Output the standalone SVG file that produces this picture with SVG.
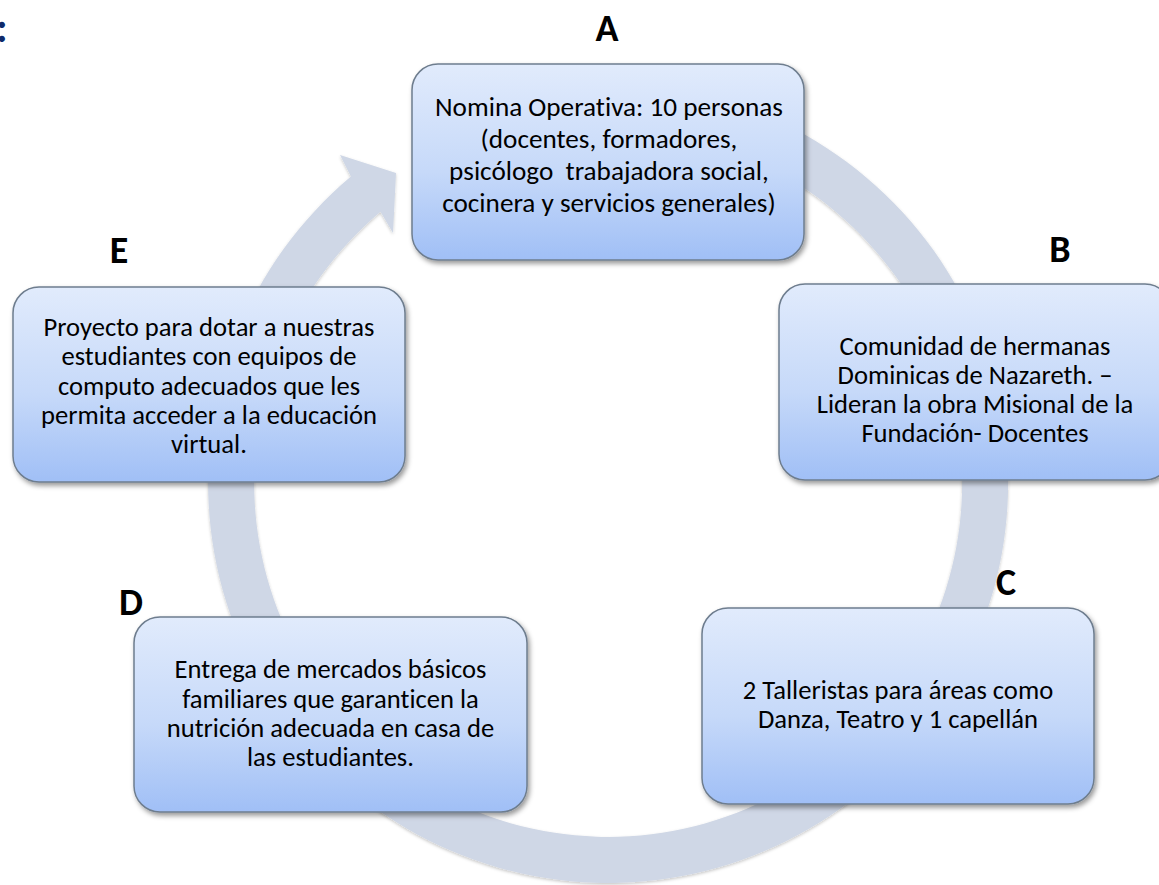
<svg xmlns="http://www.w3.org/2000/svg" width="1159" height="885" viewBox="0 0 1159 885">
<defs>
<linearGradient id="boxFill" x1="0" y1="0" x2="0" y2="1">
<stop offset="0" stop-color="#e1ebfc"/>
<stop offset="0.55" stop-color="#c6d9f9"/>
<stop offset="1" stop-color="#a0bff6"/>
</linearGradient>
<filter id="boxShadow" x="-10%" y="-10%" width="125%" height="130%">
<feDropShadow dx="2" dy="3" stdDeviation="2.5" flood-color="#000" flood-opacity="0.4"/>
</filter>
<filter id="ringShadow" x="-10%" y="-10%" width="120%" height="120%">
<feDropShadow dx="0" dy="1.5" stdDeviation="1.5" flood-color="#000" flood-opacity="0.22"/>
</filter>
<style>
.box{fill:url(#boxFill);stroke:#6e7d8e;stroke-width:1.5;filter:url(#boxShadow);}
.txt{font-family:Carlito,Lato,"Liberation Sans",sans-serif;font-size:26.6px;fill:#000;text-anchor:middle;font-variant-ligatures:none;white-space:pre;}
.big{font-size:27.2px;}
.lbl{font-family:Carlito,Lato,"Liberation Sans",sans-serif;font-weight:700;font-size:38px;fill:#000;text-anchor:middle;}
.ring{fill:#cfd7e6;filter:url(#ringShadow);}
</style>
</defs>
<rect width="1159" height="885" fill="#fff"/>
<text x="-4" y="42" font-family="Carlito,Lato,'Liberation Sans',sans-serif" font-weight="700" font-size="42" fill="#0f2a6b">:</text>

<g id="connectors">
<path class="ring" d="M471.2,107.1 A400,400 0 1 1 350.9,176.6 L340,155 L396,173 L393,233 L380.5,211.8 A354,354 0 1 0 486.9,150.3 Z"/>
</g>

<g id="node-A">
<rect class="box" x="412" y="64" width="392" height="196" rx="26"/>
<text class="txt big" x="609" y="116">Nomina Operativa: 10 personas</text>
<text class="txt big" x="609" y="148">(docentes, formadores,</text>
<text class="txt big" x="609" y="180" xml:space="preserve">psicólogo  trabajadora social,</text>
<text class="txt big" x="609" y="212">cocinera y servicios generales)</text>
</g>
<g id="label-A"><text class="lbl" x="607" y="41">A</text></g>

<g id="node-B">
<rect class="box" x="779" y="284" width="392" height="196" rx="26"/>
<text class="txt" x="975" y="355">Comunidad de hermanas</text>
<text class="txt" x="975" y="384">Dominicas de Nazareth. –</text>
<text class="txt" x="975" y="413">Lideran la obra Misional de la</text>
<text class="txt" x="975" y="442">Fundación- Docentes</text>
</g>
<g id="label-B"><text class="lbl" x="1060" y="262">B</text></g>

<g id="node-C">
<rect class="box" x="702" y="608" width="392" height="196" rx="26"/>
<text class="txt" x="898" y="699">2 Talleristas para áreas como</text>
<text class="txt" x="898" y="728">Danza, Teatro y 1 capellán</text>
</g>
<g id="label-C"><text class="lbl" x="1006" y="595">C</text></g>

<g id="node-D">
<rect class="box" x="134" y="617" width="393" height="195" rx="26"/>
<text class="txt" x="330.5" y="678">Entrega de mercados básicos</text>
<text class="txt" x="330.5" y="708">familiares que garanticen la</text>
<text class="txt" x="330.5" y="737">nutrición adecuada en casa de</text>
<text class="txt" x="330.5" y="766">las estudiantes.</text>
</g>
<g id="label-D"><text class="lbl" x="131" y="615">D</text></g>

<g id="node-E">
<rect class="box" x="13" y="287" width="392" height="195" rx="26"/>
<text class="txt" x="209" y="336">Proyecto para dotar a nuestras</text>
<text class="txt" x="209" y="365">estudiantes con equipos de</text>
<text class="txt" x="209" y="395">computo adecuados que les</text>
<text class="txt" x="209" y="424">permita acceder a la educación</text>
<text class="txt" x="209" y="453">virtual.</text>
</g>
<g id="label-E"><text class="lbl" x="119" y="263">E</text></g>
</svg>
